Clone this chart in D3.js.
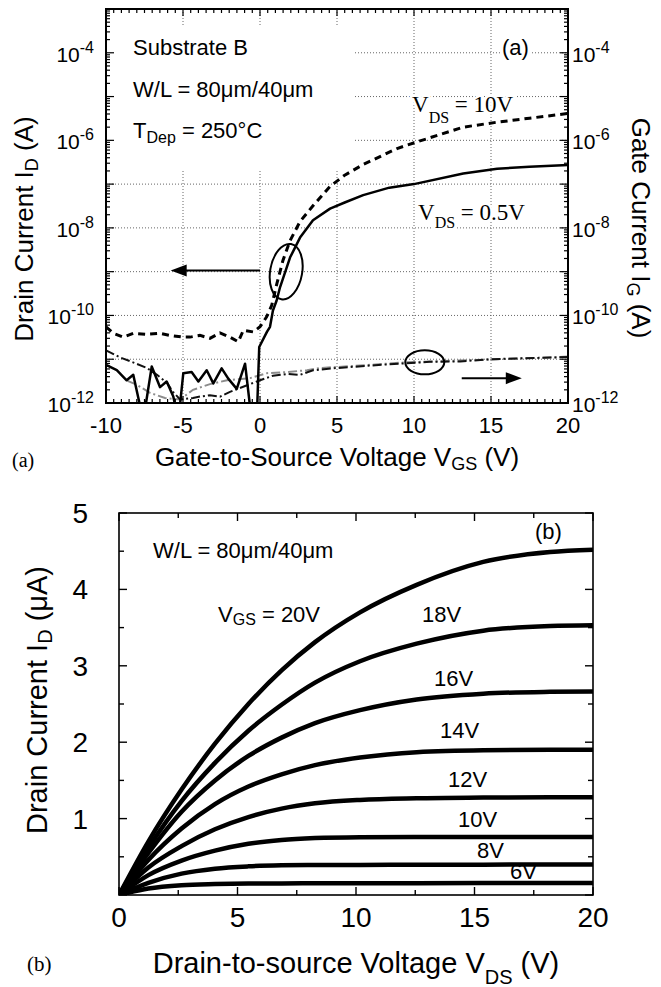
<!DOCTYPE html>
<html><head><meta charset="utf-8">
<script src="https://cdn.jsdelivr.net/npm/d3@7/dist/d3.min.js"></script>
<style>
body{margin:0;background:#fff;}
svg{display:block;}
</style></head>
<body>
<svg id="chart" width="661" height="987"></svg>
<script>
// ================= Chart (a): transfer characteristics =================
const vgsTickValues = [-10, -5, 0, 5, 10, 15, 20];
const currentTickExponents = [-12, -10, -8, -6, -4];
const gridExponents = [-11, -10, -9, -8, -7, -6, -5, -4];
const gridVgs = [-5, 0, 5, 10, 15];

// Drain current, VDS = 0.5 V  [VGS (V), ID (A)]
const idVds05 = [
  [-10, 7.4e-12], [-9.3, 5.6e-12], [-8.66, 3.3e-12], [-8.23, 4.4e-12], [-7.58, 4e-13],
  [-7.03, 6.8e-12], [-6.49, 2.3e-12], [-6.06, 3.1e-12], [-5.63, 1.4e-12], [-5.3, 4e-13],
  [-4.98, 4.8e-12], [-4.44, 5.1e-12], [-4.0, 3.1e-12], [-3.46, 5.6e-12], [-3.03, 2.8e-12],
  [-2.49, 6.2e-12], [-2.06, 3.6e-12], [-1.51, 2.1e-12], [-0.97, 7.9e-12], [-0.54, 4e-13],
  [-0.21, 4e-13], [-0.05, 1.9e-11], [0.45, 4.2e-11], [0.65, 5.5e-11], [0.84, 1.3e-10],
  [1.08, 2.2e-10], [1.3, 4.4e-10], [1.95, 2.1e-9], [2.6, 6.0e-9], [3.44, 1.5e-8],
  [4.55, 2.75e-8], [5.5, 3.8e-8], [6.7, 5.6e-8], [8.4, 8.3e-8], [10, 1.0e-7],
  [13.2, 1.75e-7], [15.4, 2.25e-7], [17.5, 2.5e-7], [20, 2.75e-7]
];
// Drain current, VDS = 10 V
const idVds10 = [
  [-10, 5.5e-11], [-9.52, 3.9e-11], [-8.88, 3.2e-11], [-8.23, 3.9e-11], [-7.36, 3.7e-11],
  [-6.49, 3.9e-11], [-5.84, 3.5e-11], [-4.98, 3.2e-11], [-4.55, 3.2e-11], [-3.9, 3.5e-11],
  [-3.25, 3.0e-11], [-2.6, 4.0e-11], [-1.95, 3.2e-11], [-1.41, 2.5e-11], [-1.08, 4.6e-11],
  [-0.43, 4.2e-11], [0, 5.5e-11], [0.43, 9.3e-11], [0.76, 1.7e-10], [1.1, 5.4e-10],
  [1.49, 1.8e-9], [1.95, 5.1e-9], [2.6, 1.4e-8], [3.44, 3.2e-8], [4.55, 8.9e-8],
  [5.5, 1.6e-7], [6.7, 2.8e-7], [8.9, 6.5e-7], [10.06, 8.9e-7], [13.2, 2.0e-6],
  [15.4, 2.6e-6], [17.5, 3.2e-6], [20, 4.1e-6]
];
// Gate currents
const igBlack = [
  [-10, 1.6e-11], [-9.09, 1.1e-11], [-8.25, 8.5e-12], [-7.34, 6.3e-12], [-6.69, 4.4e-12],
  [-6.04, 2.9e-12], [-5.65, 1.8e-12], [-5.19, 1.2e-12], [-4.35, 1.3e-12], [-3.9, 1.4e-12],
  [-3.25, 1.5e-12], [-2.6, 1.4e-12], [-1.95, 1.8e-12], [-1.3, 2.2e-12], [-0.65, 2.7e-12],
  [0, 3.3e-12], [0.84, 4.2e-12], [1.75, 4.6e-12], [2.6, 4.4e-12], [3.44, 5.6e-12],
  [5, 6.3e-12], [7, 7.1e-12], [9, 7.9e-12], [11, 8.7e-12], [13, 8.9e-12],
  [15, 1.0e-11], [17, 1.05e-11], [20, 1.12e-11]
];
const igGray = [
  [-8.6, 3.2e-12], [-7.99, 2.6e-12], [-7.14, 1.7e-12], [-6.17, 1.3e-12], [-5.19, 1.2e-12],
  [-4.35, 2.0e-12], [-3.25, 2.7e-12], [-2.14, 3.3e-12], [-0.65, 3.7e-12], [0.45, 4.8e-12],
  [1.75, 5.1e-12], [3.05, 5.6e-12], [3.9, 6.3e-12], [5.5, 6.8e-12], [7.5, 7.6e-12],
  [9.5, 8.5e-12], [12, 9.1e-12], [15.4, 1.0e-11], [18, 1.07e-11], [20, 1.15e-11]
];

// ================= Chart (b): output characteristics =================
const vdsSamples = [0, 1.24, 2.64, 4.05, 5.46, 6.86, 8.27, 10.17, 12.56, 15.37, 18.19, 20];
const vdsTickValues = [0, 5, 10, 15, 20];
const idTickValues = [1, 2, 3, 4, 5];
const vgsCurveLabels = ["20V", "18V", "16V", "14V", "12V", "10V", "8V", "6V"];
const id20 = [0, 0.70, 1.38, 1.98, 2.50, 2.94, 3.31, 3.70, 4.06, 4.36, 4.49, 4.52];
const id18 = [0, 0.62, 1.23, 1.73, 2.15, 2.49, 2.78, 3.06, 3.29, 3.46, 3.52, 3.53];
const id16 = [0, 0.55, 1.09, 1.50, 1.82, 2.06, 2.25, 2.42, 2.56, 2.635, 2.66, 2.665];
const id14 = [0, 0.46, 0.87, 1.19, 1.42, 1.58, 1.70, 1.80, 1.87, 1.895, 1.90, 1.90];
const id12 = [0, 0.36, 0.64, 0.86, 1.02, 1.13, 1.20, 1.245, 1.266, 1.275, 1.28, 1.28];
const id10 = [0, 0.26, 0.45, 0.58, 0.67, 0.72, 0.745, 0.757, 0.76, 0.76, 0.76, 0.76];
const id8  = [0, 0.16, 0.28, 0.345, 0.375, 0.388, 0.392, 0.394, 0.395, 0.397, 0.40, 0.40];
const id6  = [0, 0.085, 0.128, 0.143, 0.15, 0.152, 0.153, 0.154, 0.155, 0.156, 0.157, 0.157];

// ================= Rendering =================
const svg = d3.select("#chart");
const SANS = '"Liberation Sans", Arial, Helvetica, sans-serif';
const SERIF = '"Liberation Serif", "Times New Roman", Times, serif';

function rich(g, x, y, parts, o) {
  const t = g.append("text").attr("x", x).attr("y", y)
    .attr("font-family", o.family || SANS).attr("font-size", o.size)
    .attr("text-anchor", o.anchor || "start").attr("fill", "#000");
  if (o.transform) t.attr("transform", o.transform);
  let shift = 0;
  parts.forEach(p => {
    const s = t.append("tspan").text(p.t);
    const target = p.dy || 0;
    s.attr("dy", target - shift); shift = target;
    if (p.size) s.attr("font-size", p.size);
  });
  if (o.halo) t.attr("stroke", "#fff").attr("stroke-width", o.halo)
    .attr("paint-order", "stroke").attr("stroke-linejoin", "round");
  return t;
}

// ---------- chart (a) ----------
const A = {l: 106, r: 568, t: 9, b: 403};
const xA = d3.scaleLinear().domain([-10, 20]).range([A.l, A.r]);
const yA = d3.scaleLog().domain([1e-12, 1e-3]).range([A.b, A.t]);
const defs = svg.append("defs");
defs.append("clipPath").attr("id", "clipA").append("rect")
  .attr("x", A.l).attr("y", A.t).attr("width", A.r - A.l).attr("height", A.b - A.t);

const gA = svg.append("g");
gA.selectAll("line.gx").data(gridVgs).join("line").attr("class", "gx")
  .attr("x1", d => xA(d)).attr("x2", d => xA(d)).attr("y1", A.t).attr("y2", A.b)
  .attr("stroke", "#666").attr("stroke-width", 1).attr("stroke-dasharray", "1,2");
gA.selectAll("line.gy").data(gridExponents).join("line").attr("class", "gy")
  .attr("y1", d => yA(Math.pow(10, d))).attr("y2", d => yA(Math.pow(10, d)))
  .attr("x1", A.l).attr("x2", A.r)
  .attr("stroke", "#666").attr("stroke-width", 1).attr("stroke-dasharray", "1,2");

// white annotation box
gA.append("rect").attr("x", A.l + 1).attr("y", 27).attr("width", 246).attr("height", 142).attr("fill", "#fff");

rich(gA, 133, 55, [{t: "Substrate B"}], {size: 22});
rich(gA, 133, 97, [{t: "W/L = 80μm/40μm"}], {size: 22});
rich(gA, 133, 138, [{t: "T"}, {t: "Dep", size: 16, dy: 5}, {t: " = 250°C", dy: 0}], {size: 22});
rich(gA, 502, 55, [{t: "(a)"}], {size: 22, halo: 6});
rich(gA, 412, 112, [{t: "V"}, {t: "DS", size: 16, dy: 11}, {t: " = 10V", dy: 0}], {size: 23, family: SERIF, halo: 5});
rich(gA, 418, 220, [{t: "V"}, {t: "DS", size: 16, dy: 8}, {t: " = 0.5V", dy: 0}], {size: 23, family: SERIF, halo: 5});

const lineA = d3.line().x(d => xA(d[0])).y(d => yA(d[1]));
const cA = gA.append("g").attr("clip-path", "url(#clipA)");
cA.append("path").datum(igGray).attr("d", lineA).attr("fill", "none")
  .attr("stroke", "#8c8c8c").attr("stroke-width", 2).attr("stroke-dasharray", "9,3,2,3");
cA.append("path").datum(igBlack).attr("d", lineA).attr("fill", "none")
  .attr("stroke", "#111").attr("stroke-width", 2).attr("stroke-dasharray", "9,3,2,3");
cA.append("path").datum(idVds10).attr("d", lineA).attr("fill", "none")
  .attr("stroke", "#000").attr("stroke-width", 3).attr("stroke-dasharray", "7,5");
cA.append("path").datum(idVds05).attr("d", lineA).attr("fill", "none")
  .attr("stroke", "#000").attr("stroke-width", 2.5).attr("stroke-linejoin", "round");

// ellipses
const e1x = xA(1.7), e1y = yA(1e-9);
gA.append("ellipse").attr("cx", e1x).attr("cy", e1y).attr("rx", 16).attr("ry", 28)
  .attr("transform", `rotate(10 ${e1x} ${e1y})`).attr("fill", "none").attr("stroke", "#000").attr("stroke-width", 2);
const e2x = xA(10.7), e2y = yA(8.5e-12);
gA.append("ellipse").attr("cx", e2x).attr("cy", e2y).attr("rx", 19.5).attr("ry", 12)
  .attr("fill", "none").attr("stroke", "#000").attr("stroke-width", 2);

// arrows
const ay1 = yA(1.07e-9), tip1 = xA(-5.8);
gA.append("line").attr("x1", xA(0)).attr("x2", tip1 + 12).attr("y1", ay1).attr("y2", ay1).attr("stroke", "#000").attr("stroke-width", 2);
gA.append("path").attr("d", `M${tip1},${ay1}L${tip1 + 16},${ay1 - 6}L${tip1 + 16},${ay1 + 6}Z`).attr("fill", "#000");
const ay2 = yA(3.7e-12), tip2 = xA(17.0);
gA.append("line").attr("x1", xA(13.1)).attr("x2", tip2 - 12).attr("y1", ay2).attr("y2", ay2).attr("stroke", "#000").attr("stroke-width", 2);
gA.append("path").attr("d", `M${tip2},${ay2}L${tip2 - 16},${ay2 - 6}L${tip2 - 16},${ay2 + 6}Z`).attr("fill", "#000");

// frame and ticks
gA.append("rect").attr("x", A.l).attr("y", A.t).attr("width", A.r - A.l).attr("height", A.b - A.t)
  .attr("fill", "none").attr("stroke", "#000").attr("stroke-width", 2);
const tk = gA.append("g").attr("stroke", "#000").attr("stroke-width", 1.2);
d3.range(-10, 20.001, 0.5).forEach(v => {
  const major = Math.abs(v % 5) < 1e-9, len = major ? 7 : 4, x = xA(v);
  tk.append("line").attr("x1", x).attr("x2", x).attr("y1", A.b).attr("y2", A.b - len);
  tk.append("line").attr("x1", x).attr("x2", x).attr("y1", A.t).attr("y2", A.t + len);
});
for (let e = -12; e <= -4; e++) {
  for (let m = 1; m <= 9; m++) {
    const y = yA(m * Math.pow(10, e)), len = m === 1 ? 8 : 4;
    tk.append("line").attr("x1", A.l).attr("x2", A.l + len).attr("y1", y).attr("y2", y);
    tk.append("line").attr("x1", A.r).attr("x2", A.r - len).attr("y1", y).attr("y2", y);
  }
}
vgsTickValues.forEach(v => rich(gA, xA(v), 433, [{t: String(v)}], {size: 22, anchor: "middle"}));
currentTickExponents.forEach(e => {
  const y = yA(Math.pow(10, e)) + 9;
  rich(gA, 94, y, [{t: "10"}, {t: String(e), size: 16, dy: -9}], {size: 21, anchor: "end"});
  rich(gA, 572, y, [{t: "10"}, {t: String(e), size: 16, dy: -9}], {size: 21});
});
rich(gA, 337, 466, [{t: "Gate-to-Source Voltage V"}, {t: "GS", size: 18, dy: 4}, {t: " (V)", dy: 0}], {size: 26, anchor: "middle"});
rich(gA, 0, 0, [{t: "Drain Current I"}, {t: "D", size: 18, dy: 5}, {t: " (A)", dy: 0}], {size: 26, anchor: "middle", transform: "translate(33,229) rotate(-90)"});
rich(gA, 0, 0, [{t: "Gate Current I"}, {t: "G", size: 18, dy: 5}, {t: " (A)", dy: 0}], {size: 26, anchor: "middle", transform: "translate(632,228) rotate(90)"});
rich(gA, 12, 467, [{t: "(a)"}], {size: 20, family: SERIF});

// ---------- chart (b) ----------
const B = {l: 119, r: 593, t: 513, b: 895};
const xB = d3.scaleLinear().domain([0, 20]).range([B.l, B.r]);
const yB = d3.scaleLinear().domain([0, 5]).range([B.b, B.t]);
defs.append("clipPath").attr("id", "clipB").append("rect")
  .attr("x", B.l).attr("y", B.t).attr("width", B.r - B.l).attr("height", B.b - B.t);
const gB = svg.append("g");

rich(gB, 153, 558, [{t: "W/L = 80μm/40μm"}], {size: 22});
rich(gB, 218, 622, [{t: "V"}, {t: "GS", size: 16, dy: 3}, {t: " = 20V", dy: 0}], {size: 22});
rich(gB, 535, 539, [{t: "(b)"}], {size: 22});
const curveLabelPos = [null, [422, 622], [434, 686], [440, 738], [448, 787], [458, 827], [477, 858], [510, 879]];
vgsCurveLabels.forEach((lab, i) => {
  if (curveLabelPos[i]) rich(gB, curveLabelPos[i][0], curveLabelPos[i][1], [{t: lab}], {size: 22});
});

const curvesB = [id20, id18, id16, id14, id12, id10, id8, id6];
const lineB = d3.line().curve(d3.curveMonotoneX).x(d => xB(d[0])).y(d => yB(d[1]));
const cB = gB.append("g").attr("clip-path", "url(#clipB)");
curvesB.forEach(vals => {
  cB.append("path").datum(vdsSamples.map((v, i) => [v, vals[i]])).attr("d", lineB)
    .attr("fill", "none").attr("stroke", "#000").attr("stroke-width", 4.5);
});

gB.append("rect").attr("x", B.l).attr("y", B.t).attr("width", B.r - B.l).attr("height", B.b - B.t)
  .attr("fill", "none").attr("stroke", "#000").attr("stroke-width", 1.6);
const tkB = gB.append("g").attr("stroke", "#000").attr("stroke-width", 1.4);
d3.range(0, 20.001, 2.5).forEach(v => {
  const major = Math.abs(v % 5) < 1e-9, len = major ? 8 : 5, x = xB(v);
  tkB.append("line").attr("x1", x).attr("x2", x).attr("y1", B.b).attr("y2", B.b - len);
  tkB.append("line").attr("x1", x).attr("x2", x).attr("y1", B.t).attr("y2", B.t + len);
});
d3.range(0, 5.001, 0.5).forEach(v => {
  const major = Math.abs(v % 1) < 1e-9, len = major ? 8 : 5, y = yB(v);
  tkB.append("line").attr("x1", B.l).attr("x2", B.l + len).attr("y1", y).attr("y2", y);
  tkB.append("line").attr("x1", B.r).attr("x2", B.r - len).attr("y1", y).attr("y2", y);
});
vdsTickValues.forEach(v => rich(gB, xB(v), 927, [{t: String(v)}], {size: 28, anchor: "middle"}));
idTickValues.forEach(v => rich(gB, 88, yB(v) + 10, [{t: String(v)}], {size: 28, anchor: "end"}));
rich(gB, 356, 973, [{t: "Drain-to-source Voltage V"}, {t: "DS", size: 20, dy: 11}, {t: " (V)", dy: 0}], {size: 29, anchor: "middle"});
rich(gB, 0, 0, [{t: "Drain Current I"}, {t: "D", size: 20, dy: 5}, {t: " (μA)", dy: 0}], {size: 29, anchor: "middle", transform: "translate(47,700) rotate(-90)"});
rich(gB, 27, 971, [{t: "(b)"}], {size: 21, family: SERIF});
</script>
</body></html>
